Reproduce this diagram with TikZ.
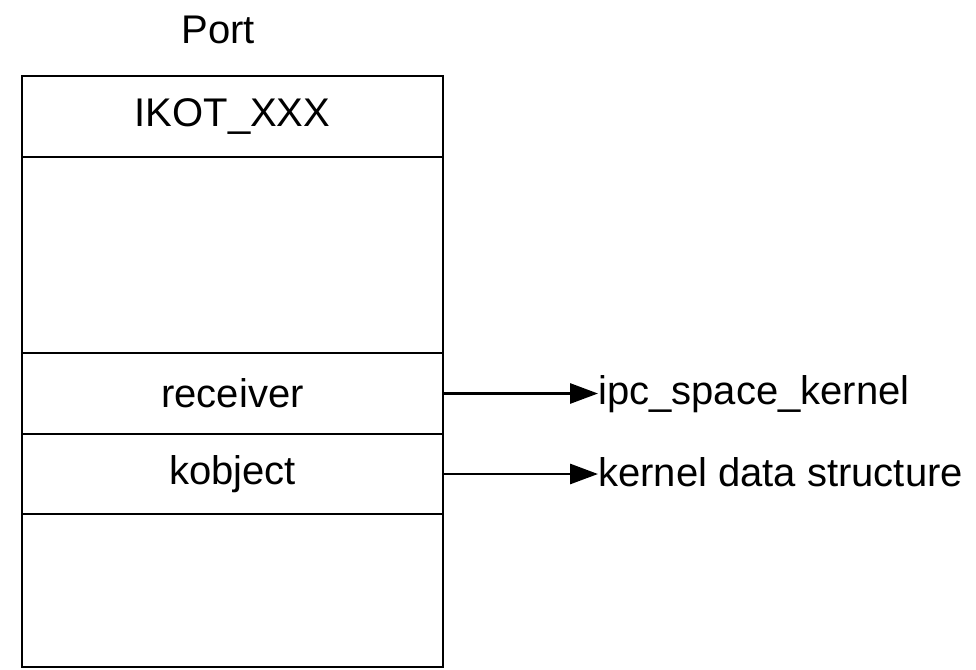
\documentclass[tikz,border=0pt]{standalone}
\usepackage{fontspec}
\setmainfont{Liberation Sans}
\usetikzlibrary{arrows.meta}

\begin{document}
\begin{tikzpicture}[x=0.75pt, y=-0.75pt,
  font=\fontsize{30}{34}\selectfont,
  field/.style={draw, line width=2.2pt, rectangle, minimum width=315.75pt,
                inner sep=0pt, outer sep=0pt, align=center},
  ref/.style={draw, line width=2.2pt, -{Triangle[length=21pt,width=15pt]}},
  target/.style={anchor=base west, inner sep=0pt}]
\useasboundingbox (0,0) rectangle (976,669);

% title of the structure
\node[anchor=base, inner sep=0pt] (title) at (218,43) {Port};

% fields of the port structure, stacked top to bottom
\node[field, minimum height=60.75pt] (ikot)     at (232.5,116.5) {IKOT\_XXX};
\node[field, minimum height=147pt]   (gap1)     at (232.5,255)   {};
\node[field, minimum height=60.75pt] (receiver) at (232.5,393.5) {receiver};
\node[field, minimum height=60pt]    (kobject)  at (232.5,474)   {kobject};
\node[field, minimum height=114.75pt](gap2)     at (232.5,590.5) {};

% what the fields point to
\node[target] (ipc) at (598,404) {ipc\_space\_kernel};
\node[target] (kds) at (598,486) {kernel data structure};

\draw[ref] (receiver.east) -- (receiver.east -| ipc.west);
\draw[ref] (kobject.east) -- (kobject.east -| kds.west);
\end{tikzpicture}
\end{document}
